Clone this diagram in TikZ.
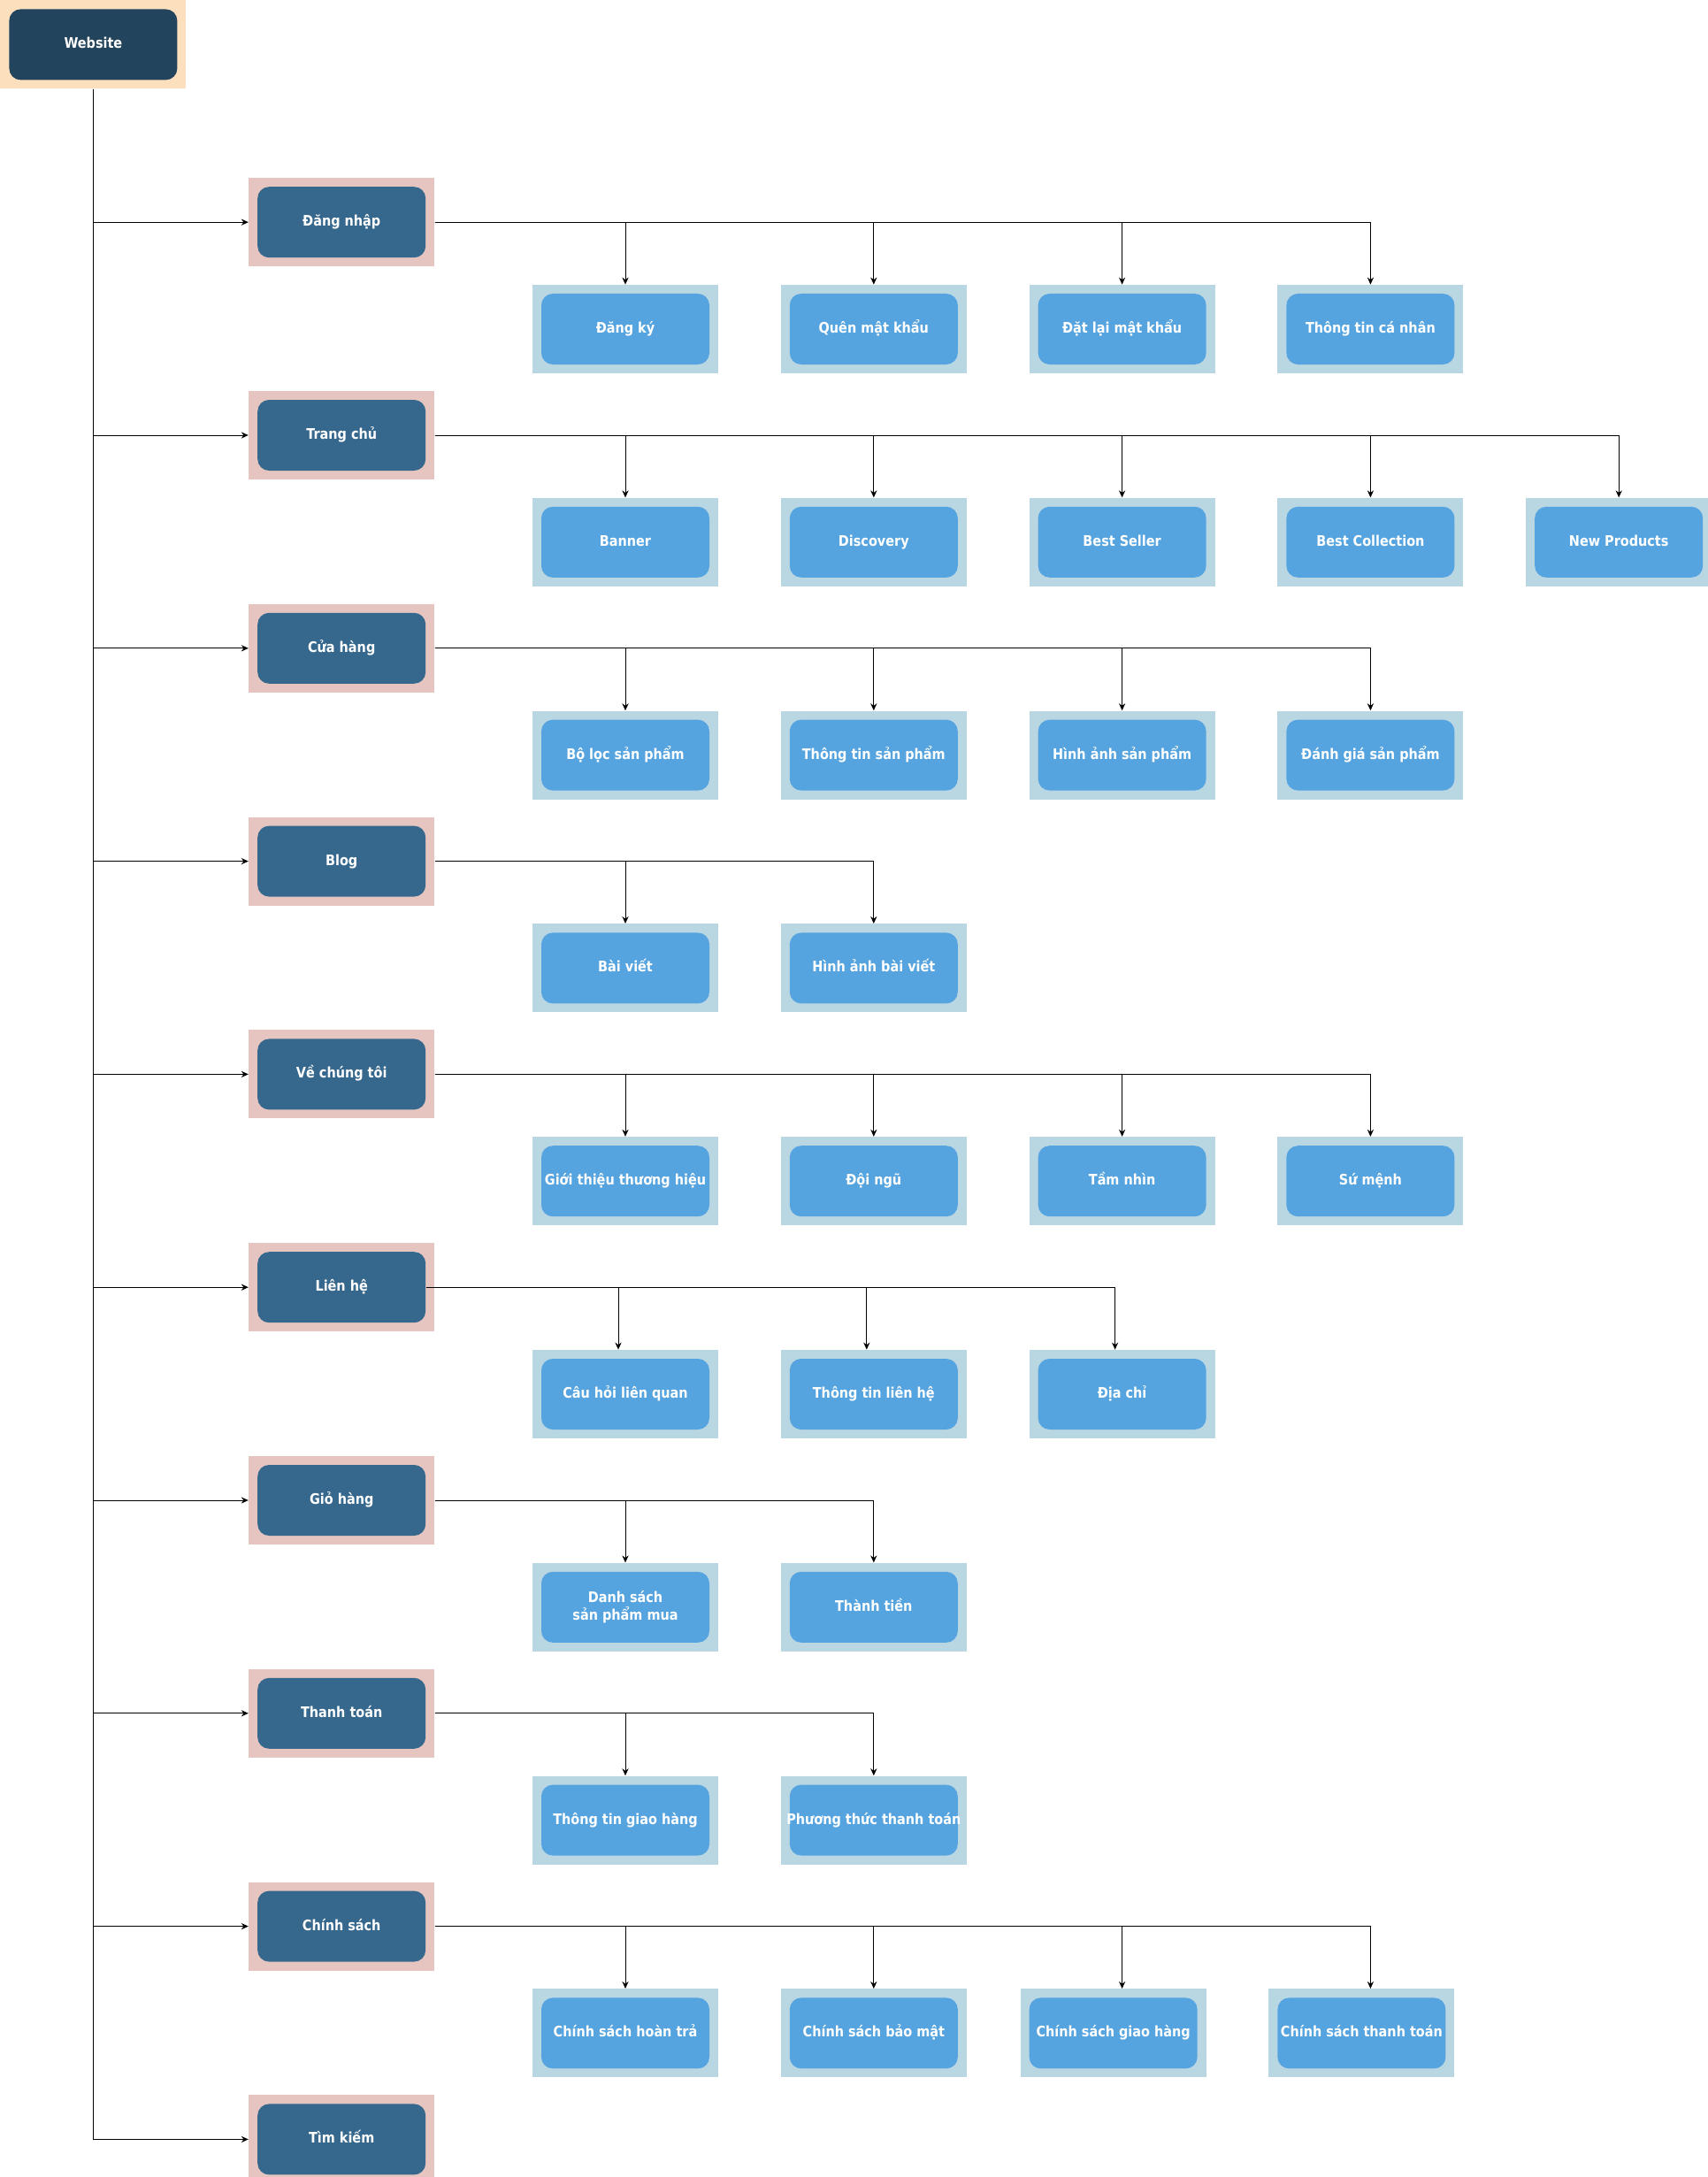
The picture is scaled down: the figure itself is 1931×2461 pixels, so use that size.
\documentclass[tikz,border=0pt]{standalone}
\usepackage{fontspec}
\newfontfamily\boxfont[FakeStretch=0.88]{DejaVu Sans}
\usepackage{tikz}
\usetikzlibrary{arrows.meta, positioning, calc}

\definecolor{webfill}{HTML}{23445D}
\definecolor{webframe}{HTML}{FCDFBD}
\definecolor{catfill}{HTML}{36688D}
\definecolor{catframe}{HTML}{E6C5C0}
\definecolor{leaffill}{HTML}{56A4DF}
\definecolor{leafframe}{HTML}{B9D6E3}

\begin{document}
\begin{tikzpicture}[
  x=0.5pt, y=-0.5pt,
  card/.style     = {minimum width=105pt, minimum height=50pt, inner sep=0pt,
                     text height=6.2pt, text depth=1.8pt,
                     align=center, text=white,
                     font=\boxfont\bfseries\fontsize{8.2}{10}\selectfont},
  inset/.style    = {path picture={\fill[#1, rounded corners=6.5pt]
                       ($(path picture bounding box.south west)+(5pt,5pt)$) rectangle
                       ($(path picture bounding box.north east)-(5pt,5pt)$);}},
  webbox/.style   = {card, fill=webframe, inset=webfill},
  catbox/.style   = {card, fill=catframe, inset=catfill},
  leafbox/.style  = {card, fill=leafframe, inset=leaffill},
  arrow/.style    = {line width=0.5pt, -{Stealth[length=4pt, width=3.6pt]}},
  node distance=70pt and 35pt
]
  \useasboundingbox (0,0) rectangle (1931,2461);

  % Root
  \node[webbox, anchor=north west] (web) at (0,0) {Website};

  % Main menu column
  \node[catbox, below right=50pt and 35pt of web] (login) {Đăng nhập};
  \node[catbox, below=of login]   (home)    {Trang chủ};
  \node[catbox, below=of home]    (shop)    {Cửa hàng};
  \node[catbox, below=of shop]    (blog)    {Blog};
  \node[catbox, below=of blog]    (about)   {Về chúng tôi};
  \node[catbox, below=of about]   (contact) {Liên hệ};
  \node[catbox, below=of contact] (cart)    {Giỏ hàng};
  \node[catbox, below=of cart]    (pay)     {Thanh toán};
  \node[catbox, below=of pay]     (policy)  {Chính sách};
  \node[catbox, below=of policy]  (search)  {Tìm kiếm};

  % Đăng nhập
  \node[leafbox, below right=10pt and 55pt of login] (signup) {Đăng ký};
  \node[leafbox, right=of signup] (forgot) {Quên mật khẩu};
  \node[leafbox, right=of forgot] (reset)  {Đặt lại mật khẩu};
  \node[leafbox, right=of reset]  (profile) {Thông tin cá nhân};

  % Trang chủ
  \node[leafbox, below right=10pt and 55pt of home] (banner) {Banner};
  \node[leafbox, right=of banner]     (discovery)  {Discovery};
  \node[leafbox, right=of discovery]  (seller)     {Best Seller};
  \node[leafbox, right=of seller]     (collection) {Best Collection};
  \node[leafbox, right=of collection] (newprod)    {New Products};

  % Cửa hàng
  \node[leafbox, below right=10pt and 55pt of shop] (filter) {Bộ lọc sản phẩm};
  \node[leafbox, right=of filter]  (prodinfo)  {Thông tin sản phẩm};
  \node[leafbox, right=of prodinfo] (prodimg)  {Hình ảnh sản phẩm};
  \node[leafbox, right=of prodimg] (review)    {Đánh giá sản phẩm};

  % Blog
  \node[leafbox, below right=10pt and 55pt of blog] (post) {Bài viết};
  \node[leafbox, right=of post] (postimg) {Hình ảnh bài viết};

  % Về chúng tôi
  \node[leafbox, below right=10pt and 55pt of about] (brand) {\makebox[0pt]{Giới thiệu thương hiệu}};
  \node[leafbox, right=of brand]  (team)    {Đội ngũ};
  \node[leafbox, right=of team]   (vision)  {Tầm nhìn};
  \node[leafbox, right=of vision] (mission) {Sứ mệnh};

  % Liên hệ
  \node[leafbox, below right=10pt and 55pt of contact] (faq) {Câu hỏi liên quan};
  \node[leafbox, right=of faq]     (coninfo) {Thông tin liên hệ};
  \node[leafbox, right=of coninfo] (address) {Địa chỉ};

  % Giỏ hàng
  \node[leafbox, text height=16.4pt, below right=10pt and 55pt of cart] (cartlist) {Danh sách\\sản phẩm mua};
  \node[leafbox, right=of cartlist] (total) {Thành tiền};

  % Thanh toán
  \node[leafbox, below right=10pt and 55pt of pay] (shipinfo) {Thông tin giao hàng};
  \node[leafbox, right=of shipinfo] (paymethod) {\makebox[0pt]{Phương thức thanh toán}};

  % Chính sách
  \node[leafbox, below right=10pt and 55pt of policy] (refund) {Chính sách hoàn trả};
  \node[leafbox, right=of refund]     (privacy)   {Chính sách bảo mật};
  \node[leafbox, right=30pt of privacy] (shipping) {Chính sách giao hàng};
  \node[leafbox, right=of shipping]   (paypolicy) {Chính sách thanh toán};

  % root -> menu
  \draw[arrow] (web) |- (login);
  \draw[arrow] (web) |- (home);
  \draw[arrow] (web) |- (shop);
  \draw[arrow] (web) |- (blog);
  \draw[arrow] (web) |- (about);
  \draw[arrow] (web) |- (contact);
  \draw[arrow] (web) |- (cart);
  \draw[arrow] (web) |- (pay);
  \draw[arrow] (web) |- (policy);
  \draw[arrow] (web) |- (search);

  % menu -> pages
  \draw[arrow] (login) -| (signup);
  \draw[arrow] (login) -| (forgot);
  \draw[arrow] (login) -| (reset);
  \draw[arrow] (login) -| (profile);

  \draw[arrow] (home) -| (banner);
  \draw[arrow] (home) -| (discovery);
  \draw[arrow] (home) -| (seller);
  \draw[arrow] (home) -| (collection);
  \draw[arrow] (home) -| (newprod);

  \draw[arrow] (shop) -| (filter);
  \draw[arrow] (shop) -| (prodinfo);
  \draw[arrow] (shop) -| (prodimg);
  \draw[arrow] (shop) -| (review);

  \draw[arrow] (blog) -| (post);
  \draw[arrow] (blog) -| (postimg);

  \draw[arrow] (about) -| (brand);
  \draw[arrow] (about) -| (team);
  \draw[arrow] (about) -| (vision);
  \draw[arrow] (about) -| (mission);

  % these leave from the inner card and land a little left
  \draw[arrow] ($(contact.east)+(-5pt,0)$) -| ($(faq.north)+(-4pt,0)$);
  \draw[arrow] ($(contact.east)+(-5pt,0)$) -| ($(coninfo.north)+(-4pt,0)$);
  \draw[arrow] ($(contact.east)+(-5pt,0)$) -| ($(address.north)+(-4pt,0)$);

  \draw[arrow] (cart) -| (cartlist);
  \draw[arrow] (cart) -| (total);

  \draw[arrow] (pay) -| (shipinfo);
  \draw[arrow] (pay) -| (paymethod);

  \draw[arrow] (policy) -| (refund);
  \draw[arrow] (policy) -| (privacy);
  \draw[arrow] (policy) -| ($(shipping.north)+(5pt,0)$);
  \draw[arrow] (policy) -| ($(paypolicy.north)+(5pt,0)$);

\end{tikzpicture}
\end{document}
